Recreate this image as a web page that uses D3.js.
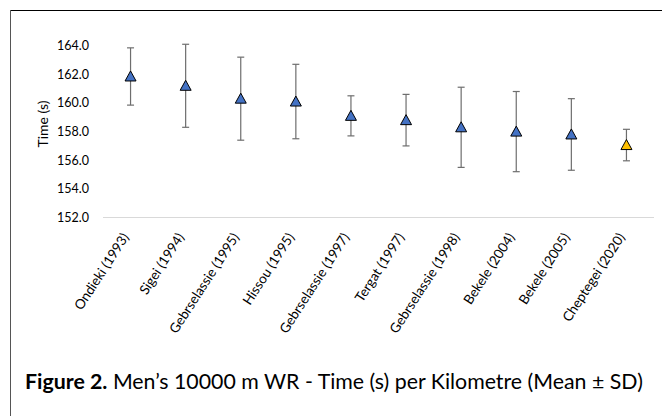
<!DOCTYPE html>
<html><head><meta charset="utf-8">
<script src="https://cdn.jsdelivr.net/npm/d3@7"></script>
<style>
body{margin:0;background:#fff;}
svg{display:block;font-family:Lato, "Open Sans", sans-serif;}
</style></head>
<body><svg id="c" width="662" height="416"></svg>
<script>
const categories = ["Ondieki (1993)","Sigei (1994)","Gebrselassie (1995)","Hissou (1995)","Gebrselassie (1997)","Tergat (1997)","Gebrselassie (1998)","Bekele (2004)","Bekele (2005)","Cheptegei (2020)"];
const means = [161.85, 161.2, 160.3, 160.1, 159.1, 158.8, 158.3, 158.0, 157.8, 157.06];
const sds = [2.0, 2.9, 2.9, 2.6, 1.4, 1.8, 2.8, 2.8, 2.5, 1.1];
const yTicks = [152, 154, 156, 158, 160, 162, 164];
const highlight = ["Cheptegei (2020)"];

const svg = d3.select("#c");
// frame
svg.append("line").attr("x1",10).attr("y1",10.5).attr("x2",662).attr("y2",10.5).attr("stroke","#000").attr("stroke-width",1);
svg.append("line").attr("x1",10.5).attr("y1",10).attr("x2",10.5).attr("y2",416).attr("stroke","#555").attr("stroke-width",1);

const x = d3.scaleBand().domain(categories).range([103, 654]);
const y = d3.scaleLinear().domain([152, 164]).range([217.5, 45.7]);

// y tick labels
svg.append("g").selectAll("text").data(yTicks).join("text")
  .attr("x", 89).attr("y", d => y(d)).attr("dy","0.35em")
  .attr("text-anchor","end").attr("font-size",12.5).attr("fill","#000")
  .text(d => d.toFixed(1));

// y title
svg.append("text").attr("transform","translate(48,124) rotate(-90)")
  .attr("text-anchor","middle").attr("font-size",14).text("Time (s)");

// x axis line
svg.append("line").attr("x1",103).attr("x2",654).attr("y1",217.5).attr("y2",217.5)
  .attr("stroke","#d9d9d9").attr("stroke-width",1);

// x labels
svg.append("g").selectAll("text").data(categories).join("text")
  .attr("transform", d => `translate(${x(d)+x.bandwidth()/2-1},237) rotate(-57)`)
  .attr("text-anchor","end").attr("font-size",13.5).attr("fill","#000")
  .text(d => d);

const data = categories.map((c,i)=>({c, m:means[i], s:sds[i]}));
const g = svg.append("g");
const cx = d => x(d.c)+x.bandwidth()/2;
// error bars
g.selectAll(".eb").data(data).join("line")
  .attr("x1",cx).attr("x2",cx).attr("y1",d=>y(d.m+d.s)).attr("y2",d=>y(d.m-d.s))
  .attr("stroke","#6e6e6e").attr("stroke-width",1.2);
g.selectAll(".capT").data(data).join("line")
  .attr("x1",d=>cx(d)-3.5).attr("x2",d=>cx(d)+3.5).attr("y1",d=>y(d.m+d.s)).attr("y2",d=>y(d.m+d.s))
  .attr("stroke","#6e6e6e").attr("stroke-width",1.2);
g.selectAll(".capB").data(data).join("line")
  .attr("x1",d=>cx(d)-3.5).attr("x2",d=>cx(d)+3.5).attr("y1",d=>y(d.m-d.s)).attr("y2",d=>y(d.m-d.s))
  .attr("stroke","#6e6e6e").attr("stroke-width",1.2);
// markers
g.selectAll(".mk").data(data).join("path")
  .attr("d", d => { const X=cx(d), Y=y(d.m); return `M${X},${Y-5.5}L${X+5.5},${Y+4.5}L${X-5.5},${Y+4.5}Z`; })
  .attr("fill", d => highlight.includes(d.c) ? "#FFC000" : "#4472C4")
  .attr("stroke","#000").attr("stroke-width",1);

// caption
let fs = 17;
const cap = svg.append("text").attr("x",25).attr("y",389).attr("font-size",fs).attr("fill","#000");
cap.append("tspan").attr("font-weight","bold").text("Figure 2.");
cap.append("tspan").text(" Men’s 10000 m WR - Time (s) per Kilometre (Mean ± SD)");
const w = cap.node().getComputedTextLength();
cap.attr("font-size", fs * 618 / w);
</script></body></html>
